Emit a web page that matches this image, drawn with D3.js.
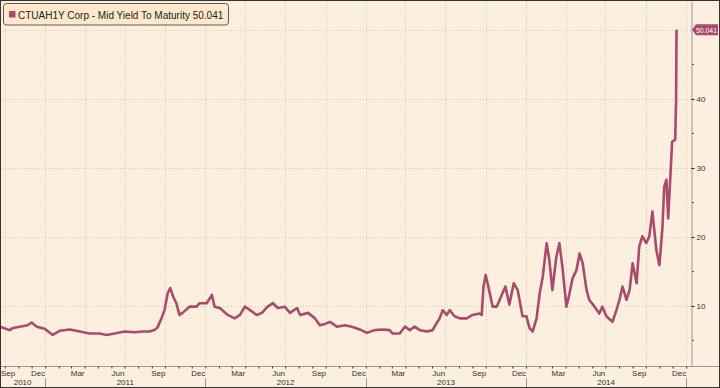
<!DOCTYPE html>
<html>
<head>
<meta charset="utf-8">
<script src="https://cdn.jsdelivr.net/npm/d3@7"></script>
<style>
  html, body { margin: 0; padding: 0; background: #fcf0e0; }
  svg { display: block; }
  .small { font-family: "Liberation Sans Narrow", "Liberation Sans", sans-serif; font-size: 8px; fill: #333; }
</style>
</head>
<body>
<div id="chart"></div>
<script>
// CTUAH1Y Corp - mid yield to maturity
const DATES = [
  "2010-09-20","2010-09-28","2010-10-12","2010-10-19","2010-11-04","2010-11-22","2010-12-01","2010-12-13","2010-12-31",
  "2011-01-18","2011-02-03","2011-02-26","2011-03-21","2011-04-12","2011-05-05","2011-05-21","2011-06-08","2011-07-01",
  "2011-07-24","2011-08-11","2011-08-27","2011-09-07","2011-09-14","2011-09-23","2011-09-30","2011-10-07","2011-10-13",
  "2011-10-20","2011-10-27","2011-11-03","2011-11-10","2011-11-26","2011-12-12","2011-12-19",
  "2012-01-04","2012-01-16","2012-01-22","2012-02-03","2012-02-21","2012-03-08","2012-03-20","2012-03-31","2012-04-12",
  "2012-04-27","2012-05-09","2012-05-22","2012-06-03","2012-06-14","2012-06-30","2012-07-12","2012-07-28","2012-08-04",
  "2012-08-22","2012-09-07","2012-09-18","2012-09-30","2012-10-11","2012-10-27","2012-11-14","2012-11-30","2012-12-18",
  "2013-01-03","2013-01-21","2013-02-08","2013-02-24","2013-03-03","2013-03-19","2013-03-31","2013-04-11","2013-04-22",
  "2013-05-04","2013-05-20","2013-06-02","2013-06-11","2013-06-18","2013-06-25","2013-07-04","2013-07-11","2013-07-22",
  "2013-08-03","2013-08-19","2013-09-01","2013-09-17","2013-09-22","2013-09-26","2013-10-01","2013-10-07","2013-10-17",
  "2013-10-26","2013-11-02","2013-11-08","2013-11-15","2013-11-24","2013-12-04","2013-12-13","2013-12-20","2013-12-24",
  "2014-01-02","2014-01-09","2014-01-16","2014-01-25","2014-02-01","2014-02-08","2014-02-17","2014-02-23","2014-03-02",
  "2014-03-11","2014-03-18","2014-03-25","2014-04-03","2014-04-10","2014-04-17","2014-04-26","2014-05-03","2014-05-10",
  "2014-05-19","2014-05-25","2014-06-06","2014-06-17","2014-06-24","2014-07-03","2014-07-17","2014-07-26","2014-08-02",
  "2014-08-09","2014-08-18","2014-08-25","2014-09-01","2014-09-10","2014-09-16","2014-09-23","2014-10-02","2014-10-09",
  "2014-10-16","2014-10-25","2014-11-01","2014-11-08","2014-11-12","2014-11-17","2014-11-21","2014-11-30","2014-12-07",
  "2014-12-09","2014-12-10"
];
const YIELDS = [
  7.0, 6.8, 6.5, 6.8, 7.0, 7.2, 7.6, 7.0, 6.7,
  5.8, 6.4, 6.6, 6.3, 6.0, 6.0, 5.8, 6.0, 6.3,
  6.2, 6.3, 6.3, 6.5, 6.9, 8.2, 9.4, 11.8, 12.6,
  11.3, 10.4, 8.7, 9.0, 9.9, 9.9, 10.4,
  10.4, 11.6, 9.9, 9.7, 8.7, 8.2, 8.7, 9.9, 9.4,
  8.7, 9.0, 9.9, 10.4, 9.7, 9.9, 9.0, 9.7, 8.7,
  9.0, 8.2, 7.2, 7.4, 7.7, 7.0, 7.2, 7.0, 6.6,
  6.1, 6.5, 6.6, 6.5, 6.0, 6.0, 7.0, 6.5, 7.0,
  6.5, 6.3, 6.5, 7.5, 8.2, 9.4, 8.7, 9.4, 8.5,
  8.2, 8.2, 8.7, 8.9, 8.7, 12.8, 14.5, 12.8, 9.9,
  9.9, 10.9, 11.8, 12.8, 10.2, 13.3, 12.3, 9.9, 8.5,
  8.5, 6.8, 6.3, 8.2, 11.8, 14.2, 19.1, 16.7, 12.3,
  17.1, 19.1, 15.6, 9.9, 11.8, 14.0, 15.2, 17.6, 16.2,
  12.3, 10.9, 9.9, 8.9, 9.9, 8.5, 7.7, 9.4, 10.9,
  12.8, 10.9, 12.3, 16.2, 13.3, 18.6, 20.1, 19.1, 20.1,
  23.7, 18.1, 15.9, 21.5, 27.3, 28.3, 22.7, 33.8, 34.1,
  39.9, 50.041
];
const Y_TICKS = [10, 20, 30, 40];
const Y_MINOR = [5, 15, 25, 35, 45];
const Y_GRID = [10, 20, 30, 40, 50];
const YEARS = ["2010", "2011", "2012", "2013", "2014"];
const LAST_LABEL = "50.041";
const LEGEND_TEXT = "CTUAH1Y Corp - Mid Yield To Maturity 50.041";

const WIDTH = 720;
const HEIGHT = 388;
const PLOT = {left: 0, right: 691, top: 1, bottom: 366};
const LINE_COLOR = "#a94b6c";

const parse = d3.timeParse("%Y-%m-%d");
const data = DATES.map((d, i) => ({date: parse(d), value: YIELDS[i]}));

const svg = d3.select("#chart")
  .append("svg")
    .attr("width", WIDTH)
    .attr("height", HEIGHT);

// dotted paper texture
const defs = svg.append("defs");
const pat = defs.append("pattern")
  .attr("id", "dots")
  .attr("width", 3).attr("height", 3)
  .attr("patternUnits", "userSpaceOnUse");
pat.append("rect").attr("width", 3).attr("height", 3).attr("fill", "#fbeedc");
pat.append("rect").attr("x", 1).attr("y", 1).attr("width", 1).attr("height", 1).attr("fill", "#fff6ea");

defs.append("clipPath").attr("id", "plotclip")
  .append("rect")
    .attr("x", PLOT.left).attr("y", PLOT.top)
    .attr("width", PLOT.right - PLOT.left).attr("height", PLOT.bottom - PLOT.top);

svg.append("rect")
  .attr("width", WIDTH).attr("height", HEIGHT)
  .attr("fill", "url(#dots)");

// scales
const X_SCALE = d3.scaleTime()
  .domain([new Date(2010, 8, 20), new Date(2015, 0, 12)])
  .range([PLOT.left, PLOT.right]);
const Y_SCALE = d3.scaleLinear()
  .domain([1.3, 54.2])
  .range([PLOT.bottom, PLOT.top]);

// gridlines
const quarters = d3.timeMonth.every(3).range(new Date(2010, 9, 1), new Date(2015, 1, 1));
svg.append("g").selectAll("line")
  .data(quarters)
  .enter().append("line")
    .attr("x1", d => Math.round(X_SCALE(d)) + 0.5)
    .attr("x2", d => Math.round(X_SCALE(d)) + 0.5)
    .attr("y1", PLOT.top).attr("y2", PLOT.bottom)
    .attr("stroke", "#dcc3b2")
    .attr("stroke-dasharray", "1,2");
svg.append("g").selectAll("line")
  .data(Y_GRID)
  .enter().append("line")
    .attr("x1", PLOT.left).attr("x2", PLOT.right)
    .attr("y1", d => Math.round(Y_SCALE(d)) + 0.5)
    .attr("y2", d => Math.round(Y_SCALE(d)) + 0.5)
    .attr("stroke", "#dcc3b2")
    .attr("stroke-dasharray", "1,2");

// the series
const line = d3.line()
  .x(d => X_SCALE(d.date))
  .y(d => Y_SCALE(d.value));
svg.append("path")
  .datum(data)
  .attr("clip-path", "url(#plotclip)")
  .attr("fill", "none")
  .attr("stroke", LINE_COLOR)
  .attr("stroke-width", 2.6)
  .attr("stroke-linejoin", "round")
  .attr("d", line);

// right axis
const yAxis = svg.append("g")
  .attr("transform", "translate(" + (PLOT.right + 0.5) + ",0)")
  .call(d3.axisRight(Y_SCALE).tickValues(Y_TICKS).tickSize(3).tickPadding(2).tickSizeOuter(0));
yAxis.select(".domain").attr("stroke", "#9a9a9a");
yAxis.selectAll(".tick line").attr("stroke", "#222");
yAxis.selectAll(".tick text").attr("class", "small").attr("font-size", null).attr("font-family", null);
svg.append("g").selectAll("line")
  .data(Y_MINOR)
  .enter().append("line")
    .attr("x1", PLOT.right + 1).attr("x2", PLOT.right + 3)
    .attr("y1", d => Math.round(Y_SCALE(d)) + 0.5)
    .attr("y2", d => Math.round(Y_SCALE(d)) + 0.5)
    .attr("stroke", "#555");

// bottom axis line and monthly ticks
svg.append("line")
  .attr("x1", 0).attr("x2", WIDTH)
  .attr("y1", PLOT.bottom + 0.5).attr("y2", PLOT.bottom + 0.5)
  .attr("stroke", "#9a9a9a");
const xAxis = svg.append("g")
  .attr("transform", "translate(0," + (PLOT.bottom + 0.5) + ")")
  .call(d3.axisBottom(X_SCALE).ticks(d3.timeMonth.every(1)).tickSize(2).tickFormat(""));
xAxis.select(".domain").remove();
xAxis.selectAll(".tick line").attr("stroke", "#333");

// month labels at mid-month, every quarter-end month
const monthFmt = d3.timeFormat("%b");
const labelMonths = d3.timeMonth.range(new Date(2010, 8, 1), new Date(2015, 0, 1))
  .filter(d => d.getMonth() % 3 === 2);
svg.append("g").selectAll("text")
  .data(labelMonths)
  .enter().append("text")
    .attr("class", "small")
    .attr("x", d => Math.max(8, X_SCALE(new Date(d.getFullYear(), d.getMonth(), 16))))
    .attr("y", 376)
    .attr("text-anchor", "middle")
    .text(d => monthFmt(d));

// year row
const yearStarts = d3.timeYear.range(new Date(2011, 0, 1), new Date(2015, 1, 1));
svg.append("g").selectAll("line")
  .data(yearStarts)
  .enter().append("line")
    .attr("x1", d => Math.round(X_SCALE(d)) + 0.5)
    .attr("x2", d => Math.round(X_SCALE(d)) + 0.5)
    .attr("y1", 378).attr("y2", HEIGHT)
    .attr("stroke", "#9a9a9a");
svg.append("g").selectAll("text")
  .data(YEARS)
  .enter().append("text")
    .attr("class", "small")
    .attr("x", d => {
      const a = Math.max(PLOT.left, X_SCALE(new Date(+d, 0, 1)));
      const b = Math.min(PLOT.right, X_SCALE(new Date(+d + 1, 0, 1)));
      return (a + b) / 2;
    })
    .attr("y", 385)
    .attr("text-anchor", "middle")
    .text(d => d);

// last value tag
const last = data[data.length - 1];
const ty = Y_SCALE(last.value);
svg.append("path")
  .attr("d", "M" + (PLOT.right + 1) + "," + ty +
             "L" + (PLOT.right + 5) + "," + (ty - 5.5) +
             "L718," + (ty - 5.5) + "L718," + (ty + 5.5) +
             "L" + (PLOT.right + 5) + "," + (ty + 5.5) + "Z")
  .attr("fill", LINE_COLOR);
svg.append("text")
  .attr("x", PLOT.right + 5)
  .attr("y", ty + 3)
  .attr("font-family", "'Liberation Sans Narrow', 'Liberation Sans', sans-serif")
  .attr("font-size", "8px")
  .attr("textLength", 21)
  .attr("lengthAdjust", "spacingAndGlyphs")
  .attr("fill", "#fff")
  .text(LAST_LABEL);

// legend
svg.append("rect")
  .attr("x", 3.5).attr("y", 3.5)
  .attr("width", 225).attr("height", 21.5)
  .attr("rx", 3)
  .attr("fill", "#fde8cc")
  .attr("stroke", "#5a5a5a");
svg.append("rect")
  .attr("x", 9).attr("y", 11)
  .attr("width", 6.5).attr("height", 6.5)
  .attr("fill", LINE_COLOR);
svg.append("text")
  .attr("x", 18).attr("y", 18.5)
  .attr("font-family", "'Liberation Sans', Arial, sans-serif")
  .attr("font-size", "10px")
  .attr("fill", "#222")
  .text(LEGEND_TEXT);

// outer frame
svg.append("rect")
  .attr("x", 0.5).attr("y", 0.5)
  .attr("width", WIDTH - 1).attr("height", HEIGHT - 1)
  .attr("fill", "none")
  .attr("stroke", "#333");
</script>
</body>
</html>
